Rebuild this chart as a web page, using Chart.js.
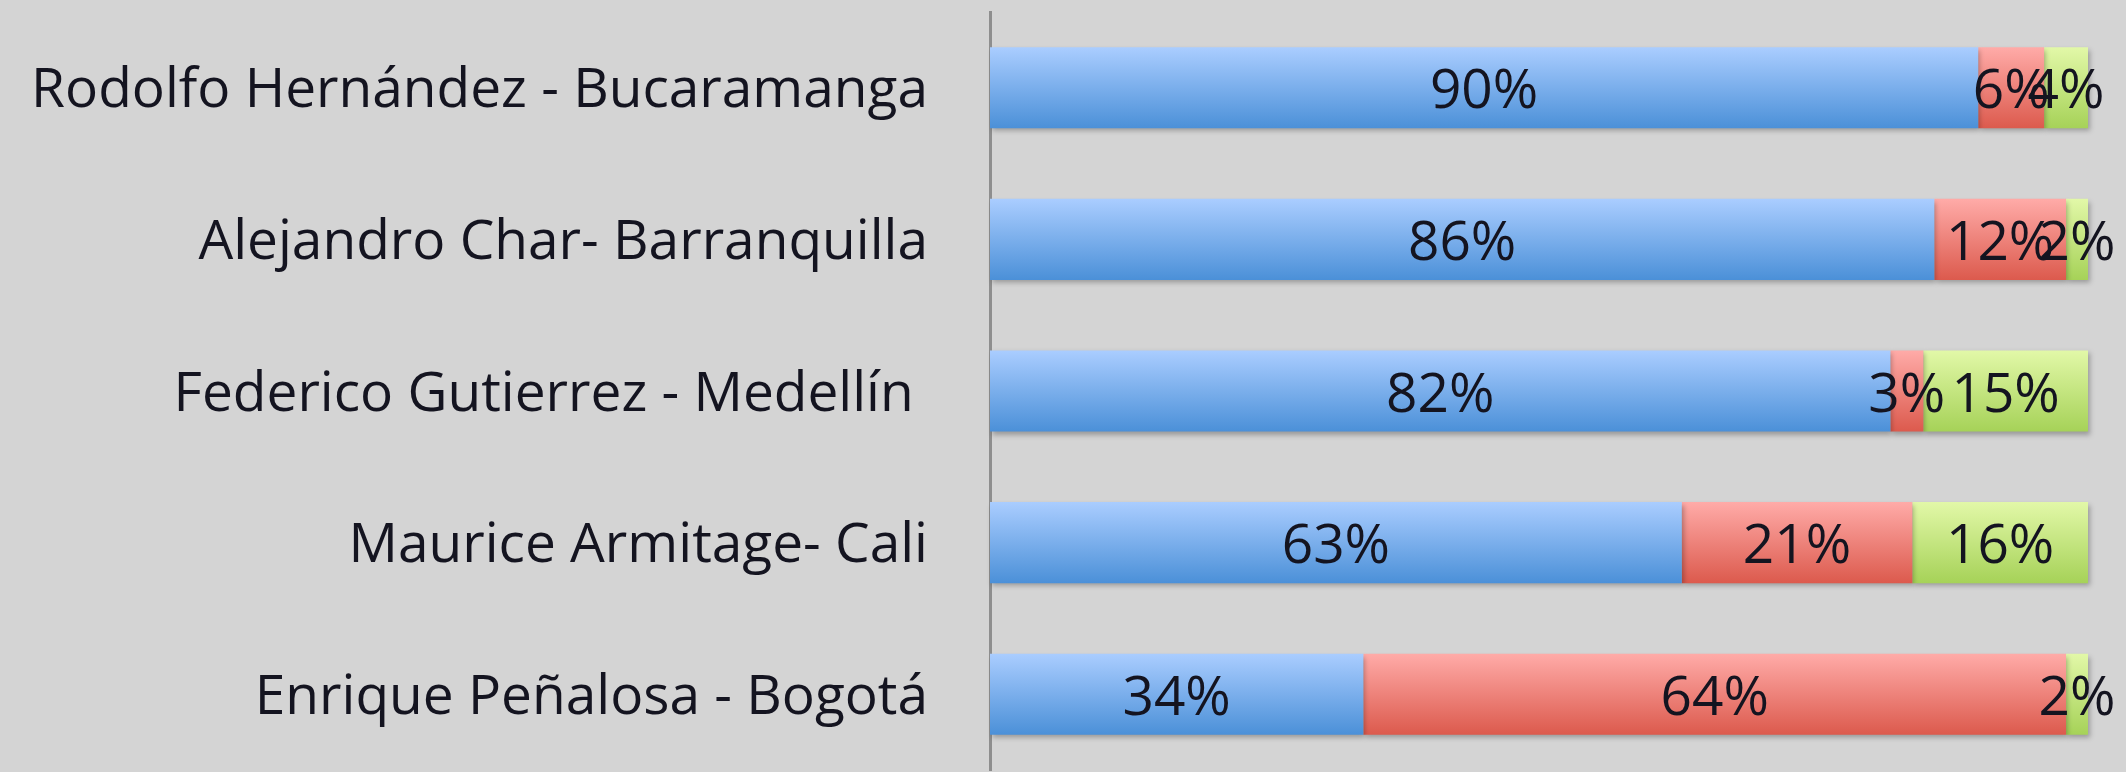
<!DOCTYPE html>
<html>
<head>
<meta charset="utf-8">
<script src="https://cdn.jsdelivr.net/npm/chart.js@4/dist/chart.umd.min.js"></script>
<style>
  html, body { margin: 0; padding: 0; background: #d4d4d4; }
  #wrap { width: 2126px; height: 772px; }
</style>
</head>
<body>
<div id="wrap"><canvas id="grafico"></canvas></div>
<script>
// categorias (de arriba a abajo)
const alcaldes = [
    "Rodolfo Hernández - Bucaramanga",
    "Alejandro Char- Barranquilla",
    "Federico Gutierrez - Medellín ",
    "Maurice Armitage- Cali",
    "Enrique Peñalosa - Bogotá"
];

// porcentajes por serie
const serieAzul  = [90, 86, 82, 63, 34];
const serieRoja  = [6, 12, 3, 21, 64];
const serieVerde = [4, 2, 15, 16, 2];

const BAR_PCT = 0.535;
const FUENTE = "'Open Sans', 'DejaVu Sans', sans-serif";

// gradiente vertical para cada barra
function degradado(arriba, abajo) {
    return function (ctx) {
        const chart = ctx.chart;
        const yScale = chart.scales.y;
        if (!yScale || !chart.chartArea) return abajo;
        const centro = yScale.getPixelForValue(ctx.dataIndex);
        const mitad = (yScale.height / alcaldes.length) * BAR_PCT / 2;
        const g = chart.ctx.createLinearGradient(0, centro - mitad, 0, centro + mitad);
        g.addColorStop(0, arriba);
        g.addColorStop(1, abajo);
        return g;
    };
}

// sombra suave bajo las barras
const sombraBarras = {
    id: "sombraBarras",
    beforeDatasetsDraw(chart) {
        const c = chart.ctx;
        c.save();
        c.shadowColor = "rgba(0,0,0,0.28)";
        c.shadowBlur = 5;
        c.shadowOffsetX = 2;
        c.shadowOffsetY = 3;
    },
    afterDatasetsDraw(chart) {
        chart.ctx.restore();
    }
};

// etiquetas con el porcentaje dentro de cada segmento
const etiquetas = {
    id: "etiquetas",
    afterDatasetsDraw(chart) {
        const c = chart.ctx;
        c.save();
        c.font = "55px " + FUENTE;
        c.fillStyle = "#141420";
        c.textAlign = "center";
        c.textBaseline = "middle";
        chart.data.datasets.forEach((ds, i) => {
            const meta = chart.getDatasetMeta(i);
            meta.data.forEach((bar, j) => {
                const xCentro = (bar.x + bar.base) / 2;
                c.fillText(ds.data[j] + "%", xCentro, bar.y + 5);
            });
        });
        c.restore();
    }
};

const ctx = document.getElementById("grafico").getContext("2d");

new Chart(ctx, {
    type: "bar",
    data: {
        labels: alcaldes,
        datasets: [
            { label: "A favor", data: serieAzul, backgroundColor: degradado("#aacdff", "#4b90d8"), clip: false },
            { label: "En contra", data: serieRoja, backgroundColor: degradado("#ffaba8", "#dc5a4d"), clip: false },
            { label: "NS/NR", data: serieVerde, backgroundColor: degradado("#e2f8a8", "#a6d258"), clip: false }
        ]
    },
    options: {
        indexAxis: "y",
        responsive: true,
        maintainAspectRatio: false,
        animation: false,
        categoryPercentage: 1,
        barPercentage: BAR_PCT,
        layout: { padding: { top: 12, bottom: 2, right: 38, left: 0 } },
        plugins: {
            legend: { display: false },
            tooltip: { enabled: false }
        },
        scales: {
            x: {
                stacked: true,
                min: 0,
                max: 100,
                display: false
            },
            y: {
                stacked: true,
                afterFit(scale) {
                    scale.width = 990;
                    scale.paddingTop = 0;
                    scale.paddingBottom = 0;
                },
                grid: { display: false, drawTicks: false },
                border: { display: true, color: "#8e8e8e", width: 3 },
                ticks: {
                    padding: 62,
                    labelOffset: 4,
                    color: "#141420",
                    font: { size: 55, family: FUENTE }
                }
            }
        }
    },
    plugins: [sombraBarras, etiquetas]
});
</script>
</body>
</html>
